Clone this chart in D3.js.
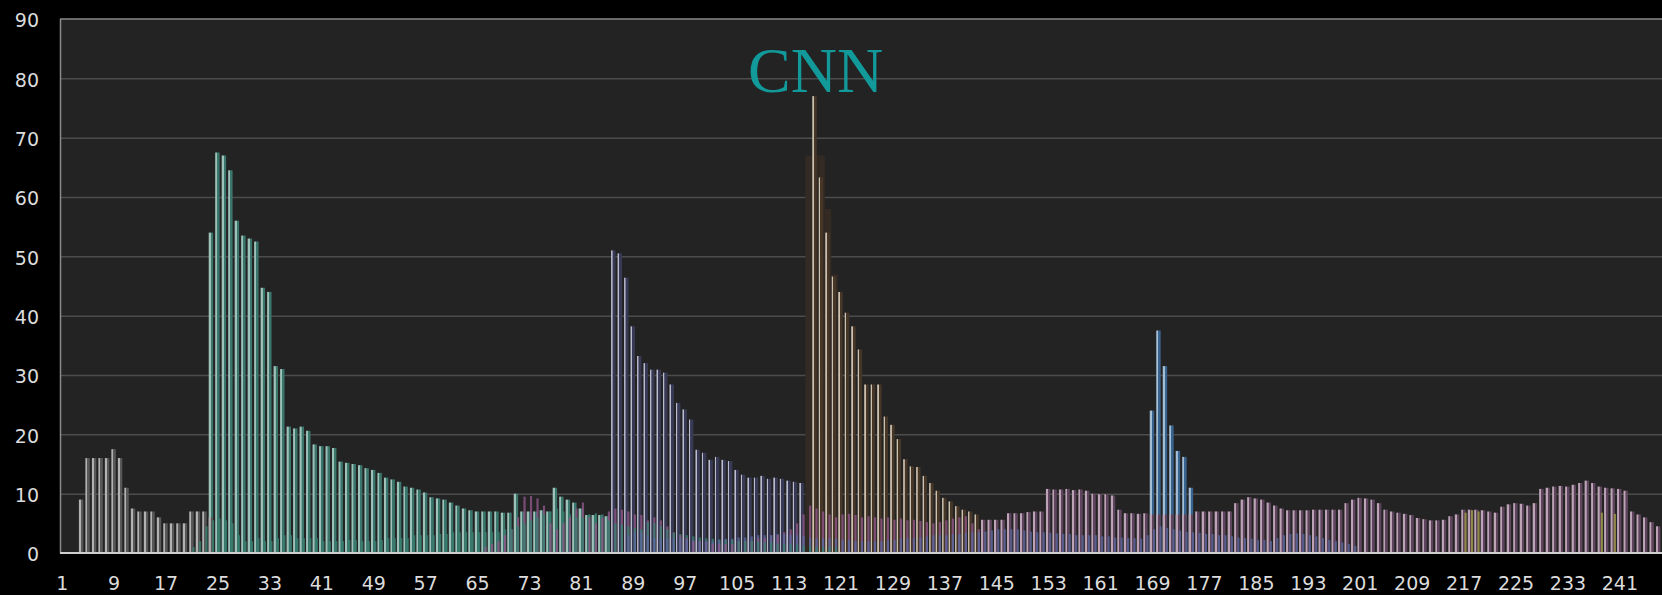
<!DOCTYPE html>
<html>
<head>
<meta charset="utf-8">
<script src="https://cdn.jsdelivr.net/npm/d3@7"></script>
<style>
  html, body { margin: 0; padding: 0; background: #000; overflow: hidden; }
  svg { display: block; }
  .tick text { font-family: "DejaVu Sans", Verdana, sans-serif; font-size: 19px; fill: #dcdcdc; }
</style>
</head>
<body>
<div id="chart"></div>
<script>
// --------------------------------------
//  Data
// --------------------------------------

const nCats = 248;
const xTicks = [1, 9, 17, 25, 33, 41, 49, 57, 65, 73, 81, 89, 97, 105, 113, 121, 129, 137, 145, 153, 161, 169, 177, 185, 193, 201, 209, 217, 225, 233, 241];
const yTicks = [0, 10, 20, 30, 40, 50, 60, 70, 80, 90];

// main stories (start category + values)
const greyStart = 1;
const grey = [0, 0, 0, 9, 16, 16, 16, 16, 17.5, 16, 11, 7.5, 7, 7, 7, 6, 5, 5, 5, 5, 7, 7, 7, 6];

const tealStart = 24;
const teal = [54, 67.5, 67, 64.5, 56, 53.5, 53, 52.5, 44.7, 44,
  31.5, 31, 21.3, 21, 21.3, 20.6, 18.3, 18, 18, 17.7,
  15.4, 15.2, 15, 14.8, 14.3, 14, 13.5, 12.7, 12.4, 12,
  11.2, 11, 10.7, 10.2, 9.4, 9.2, 9, 8.5, 8, 7.5,
  7.2, 7, 7, 7, 7, 6.8, 6.8, 10, 7, 7,
  7, 7.2, 7, 11, 9.5, 9, 8.5, 7.5, 6.4, 6.4,
  6.4, 6.2];

const lavenderStart = 86;
const lavender = [51, 50.5, 46.4, 38.2, 33.2, 32, 30.9, 30.9, 30.4, 28.4,
  25.3, 24.2, 22.5, 17.4, 16.9, 15.7, 16.2, 15.7, 15.5, 14,
  13.2, 12.7, 12.7, 13, 12.5, 12.7, 12.5, 12.2, 12, 11.8];

const tanStart = 117;
const tan = [77, 63.3, 54, 46.6, 44, 40.5, 38.2, 34.3, 28.4, 28.4,
  28.4, 23, 21.6, 19.2, 15.8, 14.6, 14.5, 13, 11.8, 10.5,
  9.3, 8.7, 7.9, 7.3, 7, 6.5];

const tanShadeStart = 116;
const tanShade = [67, 67, 67, 58, 47];

const pinkStart = 143;
const pink = [5.6, 5.6, 5.6, 5.6, 6.7, 6.7, 6.7, 6.9, 7, 7,
  10.8, 10.7, 10.7, 10.8, 10.6, 10.7, 10.5, 10, 9.9, 9.9,
  9.7, 7.3, 6.7, 6.7, 6.6, 6.7, 6.5, 6.5, 6.5, 6.5,
  6.5, 6.5, 6.5, 7, 7, 7, 7, 7, 7, 8.4,
  9, 9.4, 9.2, 9, 8.5, 8, 7.5, 7.2, 7.2, 7.2,
  7.2, 7.3, 7.3, 7.3, 7.3, 7.3, 8.4, 9, 9.3, 9.2,
  9, 8.4, 7.3, 7, 6.8, 6.6, 6.4, 5.9, 5.7, 5.5,
  5.5, 5.6, 6.2, 6.5, 7.3, 7.3, 7.3, 7.2, 7, 6.8,
  7.8, 8.2, 8.4, 8.3, 8, 8.4, 10.8, 11, 11.2, 11.3,
  11.2, 11.5, 11.8, 12.2, 11.8, 11.2, 11, 10.9, 10.8, 10.5,
  7, 6.5, 6, 5.2, 4.5, 4.2];

const blueStart = 169;
const blue = [24, 37.5, 31.5, 21.5, 17.2, 16.2, 11];

// small stories along the bottom
const pinkLowStart = 66;
const pinkLow = [1, 1.5, 2, 3, 4, 6, 9.5, 9.6, 9.2, 8,
  5, 4, 5, 6, 7.5, 8.5, 6, 5, 6, 7,
  7.5, 7.3, 7, 6.5, 6.4, 5.5, 6, 5.5, 4.5, 3.5,
  3, 2.5, 2, 2, 2, 1.5, 1.5, 1.5, 1.5, 2,
  2, 2, 2.5, 2.5, 3, 3, 3.5, 4, 5, 6.5,
  8, 7.5, 7, 6.5, 6, 6.5, 6.6, 6.4, 6, 6.2,
  6, 5.8, 6, 5.6, 5.8, 5.5, 5.6, 5.4, 5.2, 5,
  5.2, 5.5, 5.8, 6, 6.2, 5, 4];

const greenLowStart = 21;
const greenLow = [1, 2, 4.5, 5.5, 5.8, 5.5, 5, 3, 2, 2,
  2.5, 2, 2, 2.5, 3, 3, 2.5, 2.5, 2.5, 2.5,
  2, 2, 2, 2, 2.2, 2.2, 2, 2, 2, 2.2,
  2.5, 2.5, 2.5, 2.5, 3, 3, 3, 3, 3.2, 3.2,
  3.5, 3.5, 3.5, 3.5, 3.5, 3.5, 3.5, 3.5, 4, 4,
  4.5, 5, 5.5, 6, 6.5, 7, 7.5, 7, 6.5, 6,
  6, 6.5, 6.7, 6.5, 5.5, 5, 4.8, 4.5, 4.2, 4,
  5.2, 5, 4.5, 4, 3.4, 3.2, 3, 2.8, 2.6, 2.5,
  2.4, 2.3, 2.2, 2.2, 2, 2, 2, 2, 1.8, 1.8,
  1.6, 1.5, 1.5, 1.4, 1.3, 1.2, 1, 1, 1, 1];

const blueLowStart = 88;
const blueLow = [3, 3.5, 3.5, 3, 2.5, 2.5, 2.5, 2.5, 2.5, 2.2,
  2.2, 2, 2, 2, 2.2, 2.4, 2.4, 2.6, 2.6, 2.8,
  3, 3, 3, 3.2, 3.2, 3, 3, 2.8, 2.6, 2.5,
  2.5, 2.5, 2.4, 2.2, 2.2, 2, 2, 2, 2, 2,
  2.2, 2.2, 2.5, 2.5, 2.5, 2.6, 2.8, 3, 3, 3,
  3.2, 3.2, 3.4, 3.5, 3.5, 3.6, 3.8, 4, 4, 4,
  4, 3.8, 3.6, 3.5, 3.5, 3.4, 3.3, 3.2, 3.2, 3,
  3, 3, 3, 2.8, 2.8, 2.6, 2.6, 2.5, 2.5, 2.4,
  3, 4, 4.5, 4.2, 4, 3.8, 3.5, 3.5, 3.4, 3.2,
  3.2, 3, 3, 2.8, 2.6, 2.5, 2.4, 2.2, 2.2, 2,
  2.5, 3, 3.2, 3.3, 3.2, 3, 2.8, 2.5, 2.2, 2, 1.8, 1.5, 1.2];

const oliveCats = [217, 218, 219, 238, 240];
const oliveVals = [6.8, 7.2, 7, 6.8, 6.6];

// --------------------------------------
//  Canvas
// --------------------------------------

const width = 1662;
const height = 595;
const plotLeft = 60;

const svg = d3.select("#chart")
  .append("svg")
    .attr("width", width)
    .attr("height", height);

svg.append("rect")
    .attr("width", width)
    .attr("height", height)
    .attr("fill", "#000");

// --------------------------------------
//  Scales
// --------------------------------------

const x = d3.scaleBand()
    .domain(d3.range(1, nCats + 1))
    .range([59, 59 + nCats * 6.49])
    .padding(0);

const y = d3.scaleLinear()
    .domain([0, 90])
    .range([553, 19]);

const cx = c => x(c) + x.bandwidth() / 2;

svg.append("rect")
    .attr("x", plotLeft)
    .attr("y", y(90))
    .attr("width", width - plotLeft)
    .attr("height", y(0) - y(90))
    .attr("fill", "#232323");

// gridlines
svg.append("g")
    .attr("transform", `translate(${plotLeft}, 0)`)
    .call(d3.axisLeft(y)
        .tickValues(yTicks.filter(d => d > 0 && d < 90))
        .tickSize(-(width - plotLeft))
        .tickFormat(""))
    .call(g => g.select(".domain").remove())
    .call(g => g.selectAll("line").attr("stroke", "#4c4c4c").attr("stroke-width", 1.5));

// --------------------------------------
//  Series styles
// --------------------------------------

const mainStyles = {
  grey:     {light: "#b2b2b2", mid: "#585858", split: 0.4},
  teal:     {light: "#9ec2ba", mid: "#3b766d", split: 0.42},
  lavender: {light: "#bcbcd0", mid: "#383a55", split: 0.3},
  tan:      {light: "#ccc0ae", mid: "#463628", split: 0.3},
  pink:     {light: "#bca4b6", mid: "#5e445c", split: 0.42},
  blue:     {light: "#a4bed6", mid: "#3a6490", split: 0.4}
};
const lowColors = {pinkLow: "#90568a", greenLow: "#398272", blueLow: "#5a689e", olive: "#a49c4a"};

const defs = svg.append("defs");
Object.entries(mainStyles).forEach(([key, s]) => {
  const g = defs.append("linearGradient").attr("id", "g-" + key).attr("x1", 0).attr("x2", 1).attr("y1", 0).attr("y2", 0);
  g.append("stop").attr("offset", 0).attr("stop-color", s.light);
  g.append("stop").attr("offset", s.split).attr("stop-color", s.light);
  g.append("stop").attr("offset", s.split + 0.05).attr("stop-color", s.mid);
  g.append("stop").attr("offset", 1).attr("stop-color", s.mid);
});

const toBars = (key, start, vals) => vals.map((v, i) => ({key, cat: start + i, value: v})).filter(d => d.value > 0);

const mains = [].concat(
  toBars("grey", greyStart, grey),
  toBars("teal", tealStart, teal),
  toBars("lavender", lavenderStart, lavender),
  toBars("tan", tanStart, tan),
  toBars("pink", pinkStart, pink),
  toBars("blue", blueStart, blue)
).sort((a, b) => b.value - a.value);

const lows = [].concat(
  toBars("pinkLow", pinkLowStart, pinkLow),
  toBars("greenLow", greenLowStart, greenLow),
  toBars("blueLow", blueLowStart, blueLow),
  oliveCats.map((c, i) => ({key: "olive", cat: c, value: oliveVals[i]}))
).sort((a, b) => b.value - a.value);

// --------------------------------------
//  Data drawing
// --------------------------------------

svg.append("g")
  .selectAll("rect")
  .data(toBars("shade", tanShadeStart, tanShade))
  .join("rect")
    .attr("x", d => x(d.cat))
    .attr("y", d => y(d.value))
    .attr("width", x.bandwidth())
    .attr("height", d => y(0) - y(d.value))
    .attr("fill", "#322a23");

svg.append("g")
  .selectAll("rect")
  .data(mains)
  .join("rect")
    .attr("x", d => cx(d.cat) - 2.8)
    .attr("y", d => y(d.value))
    .attr("width", 4.4)
    .attr("height", d => y(0) - y(d.value))
    .attr("fill", d => `url(#g-${d.key})`);

svg.append("g")
  .selectAll("rect")
  .data(lows)
  .join("rect")
    .attr("x", d => cx(d.cat) + 0.4)
    .attr("y", d => y(d.value))
    .attr("width", 2.2)
    .attr("height", d => y(0) - y(d.value))
    .attr("fill", d => lowColors[d.key])
    .attr("opacity", 0.8);

// --------------------------------------
//  Frame and axes
// --------------------------------------

svg.append("line")
    .attr("x1", plotLeft).attr("x2", width)
    .attr("y1", y(90)).attr("y2", y(90))
    .attr("stroke", "#8a8a8a").attr("stroke-width", 1.5);

svg.append("line")
    .attr("x1", plotLeft + 0.5).attr("x2", plotLeft + 0.5)
    .attr("y1", y(90)).attr("y2", y(0))
    .attr("stroke", "#8a8a8a").attr("stroke-width", 1.5);

svg.append("line")
    .attr("x1", plotLeft).attr("x2", width)
    .attr("y1", y(0)).attr("y2", y(0))
    .attr("stroke", "#cfcfcf").attr("stroke-width", 2);

svg.append("g")
    .attr("transform", `translate(${plotLeft}, 0)`)
    .call(d3.axisLeft(y)
        .tickValues(yTicks)
        .tickSize(0)
        .tickPadding(21))
    .call(g => g.select(".domain").remove())
    .call(g => g.selectAll("text").attr("dy", "0.42em"));

svg.append("g")
    .attr("transform", `translate(0, ${y(0)})`)
    .call(d3.axisBottom(x)
        .tickValues(xTicks)
        .tickSize(0)
        .tickPadding(24))
    .call(g => g.select(".domain").remove());

svg.append("text")
    .attr("x", 748)
    .attr("y", 92)
    .attr("font-family", "Liberation Serif, Times New Roman, serif")
    .attr("font-size", 64)
    .attr("fill", "#129a9a")
    .text("CNN");
</script>
</body>
</html>
